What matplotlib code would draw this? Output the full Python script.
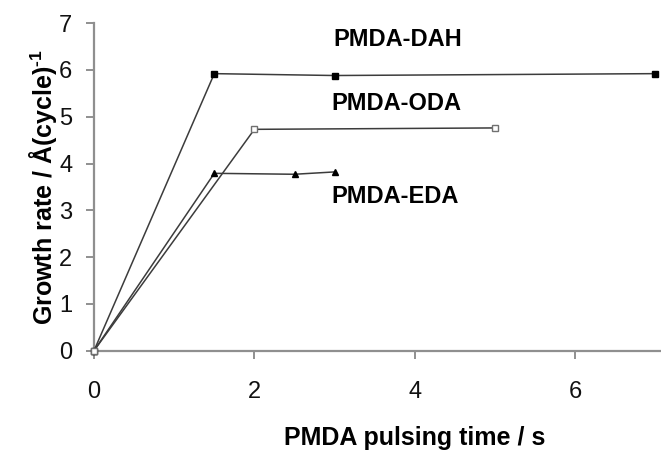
import matplotlib
matplotlib.use("Agg")
import matplotlib.pyplot as plt

plt.rcParams['font.family'] = ['Liberation Sans', 'DejaVu Sans']
plt.rcParams['mathtext.fontset'] = 'custom'
plt.rcParams['mathtext.rm'] = 'Liberation Sans:bold'
plt.rcParams['mathtext.bf'] = 'Liberation Sans:bold'

# Data
dah_x = [0, 1.5, 3, 7]
dah_y = [0, 5.92, 5.88, 5.92]
oda_x = [0, 2, 5]
oda_y = [0, 4.73, 4.76]
eda_x = [0, 1.5, 2.5, 3]
eda_y = [0, 3.79, 3.77, 3.82]

x_ticks = [0, 2, 4, 6]
y_ticks = [0, 1, 2, 3, 4, 5, 6, 7]

W, H = 661, 450
x0_px, y0_px, px_per_x, px_per_y = 94, 350.7, 80.2, 46.8
xmax, ymax = 8, 7
ax_w = xmax * px_per_x
ax_h = ymax * px_per_y

fig = plt.figure(figsize=(W / 100, H / 100), dpi=100)
ax = fig.add_axes([x0_px / W, (H - y0_px) / H, ax_w / W, ax_h / H])

line_c = '#3c3c3c'
ax.plot(dah_x, dah_y, color=line_c, lw=1.1, marker='s', ms=4.8, mfc='black', mec='black', zorder=3, clip_on=False)
ax.plot(eda_x, eda_y, color=line_c, lw=1.1, marker='^', ms=4.8, mfc='black', mec='black', zorder=3, clip_on=False)
ax.plot(oda_x, oda_y, color=line_c, lw=1.1, marker='s', ms=5, mfc='white', mec='#707070', mew=1.0, zorder=4, clip_on=False)

ax.set_xlim(0, xmax)
ax.set_ylim(0, ymax)
ax.set_xticks(x_ticks)
ax.set_yticks(y_ticks)

for s in ['top', 'right']:
    ax.spines[s].set_visible(False)
for s in ['left', 'bottom']:
    ax.spines[s].set_color('#8f8f8f')
    ax.spines[s].set_linewidth(1.6)

ax.tick_params(axis='both', direction='out', length=6, width=1.4, color='#8f8f8f',
               labelsize=17, labelcolor='#111111')
ax.tick_params(axis='x', pad=16)
ax.tick_params(axis='y', pad=9.5)

ax.set_xlabel('PMDA pulsing time / s', fontsize=18, fontweight='bold', va='baseline')
ax.xaxis.set_label_coords(0.5, (y0_px - 445) / ax_h)
ax.set_ylabel('Growth rate / Å(cycle)$^{\\mathbf{\u2010}\\mathbf{1}}$', fontsize=18,
              fontweight='bold', va='baseline')
ax.yaxis.set_label_coords((52 - x0_px) / ax_w, 0.5)

ax.text(2.98, 6.52, 'PMDA-DAH', fontsize=17, fontweight='bold', va='baseline', ha='left')
ax.text(2.96, 5.14, 'PMDA-ODA', fontsize=17, fontweight='bold', va='baseline', ha='left')
ax.text(2.96, 3.15, 'PMDA-EDA', fontsize=17, fontweight='bold', va='baseline', ha='left')

fig.savefig('out.png', dpi=100)
